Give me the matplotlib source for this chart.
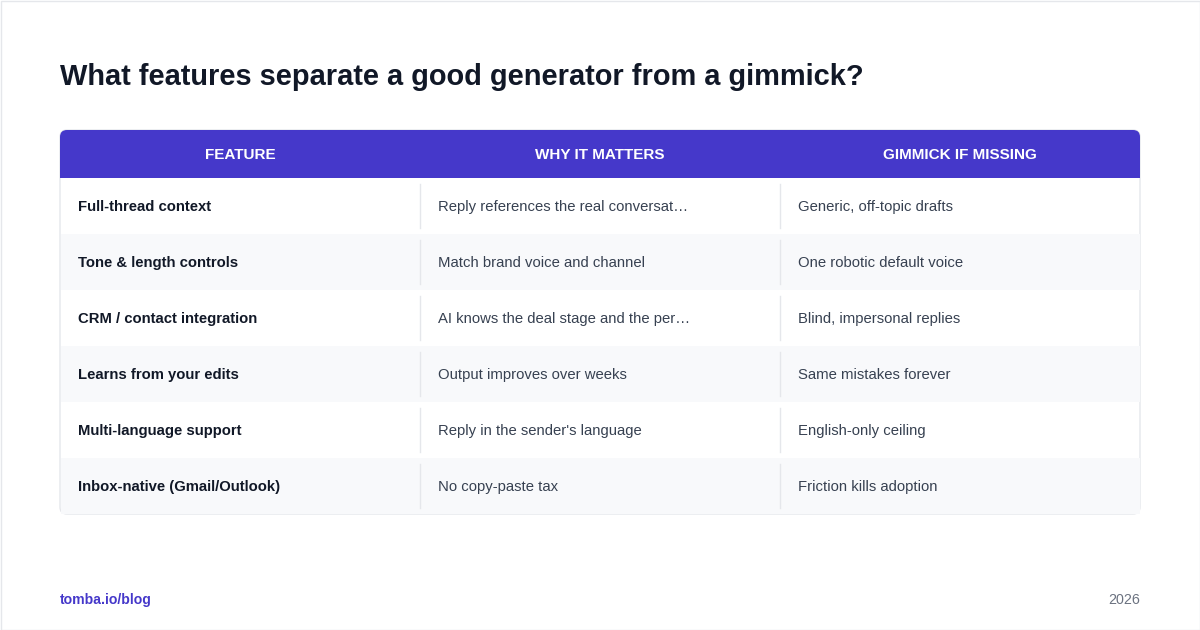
import matplotlib
matplotlib.use("Agg")
import matplotlib.pyplot as plt
from matplotlib.patches import Rectangle, FancyBboxPatch

title = "What features separate a good generator from a gimmick?"
headers = ["FEATURE", "WHY IT MATTERS", "GIMMICK IF MISSING"]
features = ["Full-thread context", "Tone & length controls", "CRM / contact integration",
            "Learns from your edits", "Multi-language support", "Inbox-native (Gmail/Outlook)"]
why = ["Reply references the real conversat\u2026", "Match brand voice and channel",
       "AI knows the deal stage and the per\u2026", "Output improves over weeks",
       "Reply in the sender's language", "No copy-paste tax"]
gimmick = ["Generic, off-topic drafts", "One robotic default voice", "Blind, impersonal replies",
           "Same mistakes forever", "English-only ceiling", "Friction kills adoption"]
footer_left = "tomba.io/blog"
footer_right = "2026"

plt.rcParams['font.family'] = ['Liberation Sans', 'DejaVu Sans']
W, H = 1200, 630
fig = plt.figure(figsize=(12, 6.3), dpi=100)
ax = fig.add_axes([0, 0, 1, 1])
ax.set_xlim(0, W); ax.set_ylim(H, 0); ax.axis('off')

ax.add_patch(Rectangle((0.5, 0.5), W - 1, H - 1, fill=False, ec='#e5e7eb', lw=1))
ax.text(60, 85, title, fontsize=20.9, fontweight='bold', color='#111827', va='baseline', ha='left')

x0, x1 = 60, 1140
top, hh, rh = 130, 48, 56
cols = [60, 420, 780, 1140]
n = len(features)
bottom = top + hh + rh * n
ax.add_patch(FancyBboxPatch((x0, top), x1 - x0, bottom - top, boxstyle="round,pad=0,rounding_size=7",
                            fc='white', ec='#e5e7eb', lw=1, zorder=1))
ax.add_patch(FancyBboxPatch((x0, top), x1 - x0, hh, boxstyle="round,pad=0,rounding_size=7",
                            fc='#4538ca', ec='none', zorder=2))
ax.add_patch(Rectangle((x0, top + hh - 10), x1 - x0, 10, fc='#4538ca', ec='none', zorder=2))
for i, h in enumerate(headers):
    ax.text((cols[i] + cols[i + 1]) / 2, top + hh / 2 + 5, h, fontsize=11, fontweight='bold',
            color='white', ha='center', va='baseline', zorder=3)

for r in range(n):
    y = top + hh + r * rh
    if r % 2 == 1:
        ax.add_patch(Rectangle((x0 + 0.5, y), x1 - x0 - 1, rh, fc='#f8f9fb', ec='none', zorder=1.5))
    for c in (1, 2):
        ax.plot([cols[c], cols[c]], [y + 6, y + rh - 6], color='#e5e7eb', lw=1, zorder=3)
    vals = [features[r], why[r], gimmick[r]]
    for c, v in enumerate(vals):
        ax.text(cols[c] + 18, y + rh / 2 + 5, v, fontsize=10.7,
                fontweight='bold' if c == 0 else 'normal',
                color='#111827' if c == 0 else '#374151', ha='left', va='baseline', zorder=3)

ax.text(60, 604, footer_left, fontsize=10.1, fontweight='bold', color='#4538ca', va='baseline')
ax.text(1140, 604, footer_right, fontsize=10.3, color='#6b7280', va='baseline', ha='right')
fig.savefig("out.png", dpi=100)
